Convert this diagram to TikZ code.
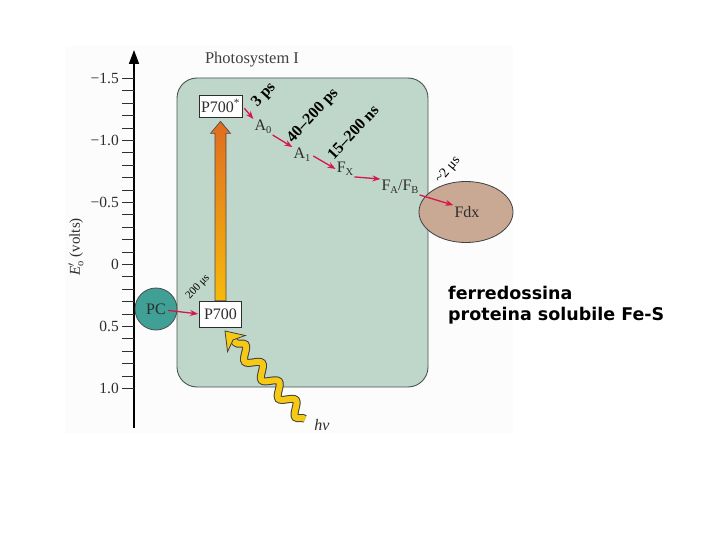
\documentclass[tikz,border=0pt]{standalone}
\usepackage{fontspec}
\setmainfont{Liberation Serif}
\newfontfamily\dejavu{DejaVu Sans}
\usetikzlibrary{arrows.meta,calc,decorations.pathmorphing,shapes.geometric}
\definecolor{psgreen}{RGB}{191,214,203}
\definecolor{psedge}{RGB}{70,85,80}
\definecolor{pcteal}{RGB}{64,160,150}
\definecolor{fdxtan}{RGB}{201,168,148}
\definecolor{etred}{RGB}{214,22,76}
\definecolor{lbl}{RGB}{45,45,45}
\definecolor{hvyellow}{RGB}{246,202,20}
\definecolor{arrtop}{RGB}{224,108,32}
\definecolor{arrbot}{RGB}{246,186,10}
\newcommand\fs[1]{\fontsize{#1}{#1}\selectfont}
\newcommand\mysub[1]{\raisebox{-0.4ex}{\fs{10.5}#1}}
\begin{document}
\begin{tikzpicture}[x=1pt,y=-1pt,
  lab/.style={text=lbl, font=\fs{16}, inner sep=1pt},
  boxnode/.style={draw=lbl, fill=white, line width=0.8pt, font=\fs{16}, text=lbl, minimum height=22pt, minimum width=42pt, inner sep=2pt},
  rate/.style={font=\fs{16}\bfseries, rotate=47, text=black, inner sep=0pt},
  et/.style={draw=etred, line width=1.3pt, -{Stealth[length=8pt,width=6pt]}},
  tickmark/.style={draw=lbl, line width=0.9pt},
  wave/.style={decorate, decoration={snake, amplitude=6pt, segment length=25pt}},
]
\useasboundingbox (0,0) rectangle (720,540);
\fill[white] (0,0) rectangle (720,540);
\fill[black!1] (65,46) rectangle (513,433);

% axis
\draw[line width=1.6pt, -{Triangle[length=14pt,width=10pt]}] (134,428) coordinate (axb) -- (134,50) coordinate (axt);
\foreach \i in {0,...,25} { \draw[tickmark] (122,{78.5+\i*12.4}) -- (134,{78.5+\i*12.4}); }
\foreach \v/\t [count=\k] in {-1.5/−1.5, -1.0/−1.0, -0.5/−0.5, 0/0, 0.5/0.5, 1.0/1.0}
  \node[lab, anchor=east, font=\fs{15.5}] (yl\k) at (120,{264.5+\v*124}) {\t};
\node[lab, rotate=90, font=\fs{15}] (ylabel) at (76,247) {\textit{E}$'_{\mathrm{o}}$ (volts)};

% photosystem box
\node[draw=psedge, fill=psgreen, line width=0.9pt, rounded corners=20pt,
      minimum width=251pt, minimum height=309pt, inner sep=0pt] (ps) at (302.5,232.5) {};
\node[font=\fs{16.5}, text=black!75, inner sep=1pt] (title) at (252,60) {Photosystem I};

% boxes
\node[boxnode] (p700s) at (220.5,106) {P700\textsuperscript{*}};
\node[boxnode, minimum height=26pt] (p700) at (220.5,314) {P700};

% orange excitation arrow
\shadedraw[top color=arrtop, bottom color=arrbot, draw=black!70, line width=0.7pt]
  ($(p700.north)+(-5.5,0)$) -- ($(p700s.south)+(-5.5,16)$) -- ($(p700s.south)+(-10,16)$)
  -- ($(p700s.south)+(0,4)$) -- ($(p700s.south)+(10,16)$) -- ($(p700s.south)+(5.5,16)$)
  -- ($(p700.north)+(5.5,0)$) -- cycle;

% chain
\node[lab] (A0) at (263,127) {A\mysub{0}};
\node[lab] (A1) at (302,155) {A\mysub{1}};
\node[lab] (FX) at (345,169) {F\mysub{X}};
\node[lab] (FAB) at (400,187) {F\mysub{A}/F\mysub{B}};

\node[ellipse, draw=black!75, fill=fdxtan, line width=0.8pt, minimum width=94pt, minimum height=61pt] (fdx) at (466,212) {};
\node[lab] (fdxt) at (467,212) {Fdx};

\node[circle, draw=black!70, fill=pcteal, line width=0.8pt, minimum size=42pt, inner sep=0pt, font=\fs{16}, text=lbl] (pc) at (156,309) {PC};

\draw[et, shorten <=3pt] (p700s.east) -- (A0.north west);
\draw[et] (A0.south east) -- (A1.north west);
\draw[et, shorten <=2pt] (A1.east) -- (FX.west);
\draw[et] (FX.south east) -- (FAB.north west);
\draw[et] (FAB.south east) -- (fdxt.north west);
\draw[et, shorten <=12pt, shorten >=1pt] (pc.center) -- (p700.west);

% rates
\node[rate] (r1) at (264,95) {3 ps};
\node[rate] (r2) at (313,116) {40–200 ps};
\node[rate] (r3) at (353,132) {15–200 ns};
\node[rate, rotate=3, font=\fs{14}] (r4) at (448,170) {\textasciitilde 2 μs};
\node[rate, font=\fs{11}] (r0) at (198,287) {200 μs};

% light
\coordinate (hvs) at (305,419);
\coordinate (hvtip) at (225,331);
\coordinate (hvb) at ($(hvtip)!12pt!(hvs)$);
\draw[wave, line width=8pt, draw=black!75] (hvs) -- (hvb);
\draw[wave, line width=6pt, draw=hvyellow] (hvs) -- (hvb);
\filldraw[fill=hvyellow, draw=black!75, line width=0.8pt, line join=miter]
  (hvtip) -- ($(hvtip)!17pt!(hvs)!12pt!90:(hvtip)$) -- ($(hvtip)!12pt!(hvs)$)
  -- ($(hvtip)!17pt!(hvs)!12pt!-90:(hvtip)$) -- cycle;
\node[font=\fs{16}\itshape, text=lbl, inner sep=1pt] (hv) at (322,425) {hν};

% note
\node[font=\dejavu\bfseries\fontsize{17.5}{21}\selectfont, align=left, anchor=base west, inner sep=0pt] (note) at (448,320)
  {ferredossina\\proteina solubile Fe-S};
\end{tikzpicture}
\end{document}
